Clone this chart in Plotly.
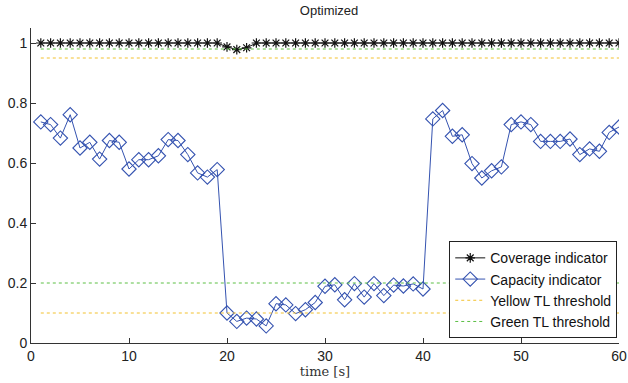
import plotly.graph_objects as go

time = list(range(1, 61))
coverage = [1.0] * 19 + [0.987, 0.978, 0.984] + [1.0] * 38
capacity = [0.737, 0.728, 0.683, 0.761, 0.650, 0.669, 0.613, 0.675, 0.669, 0.580,
            0.611, 0.611, 0.624, 0.678, 0.675, 0.628, 0.567, 0.553, 0.578, 0.100,
            0.072, 0.083, 0.080, 0.057, 0.131, 0.127, 0.098, 0.111, 0.135, 0.189,
            0.194, 0.144, 0.198, 0.153, 0.198, 0.158, 0.193, 0.190, 0.197, 0.180,
            0.747, 0.775, 0.689, 0.694, 0.598, 0.550, 0.574, 0.587, 0.728, 0.737,
            0.728, 0.672, 0.672, 0.672, 0.680, 0.628, 0.647, 0.639, 0.702, 0.720]
yellow_levels = [0.95, 0.1]
green_levels = [0.98, 0.2]
x_ticks = [0, 10, 20, 30, 40, 50, 60]
y_ticks = [0, 0.2, 0.4, 0.6, 0.8, 1]

BLUE = "#3553b0"
YELLOW = "#f2c12e"
GREEN = "#5cbf45"


def level_line(levels):
    xs, ys = [], []
    for lv in levels:
        xs += [time[0], time[-1], None]
        ys += [lv, lv, None]
    return xs, ys


fig = go.Figure()
fig.add_trace(go.Scatter(
    x=time, y=coverage, name="Coverage indicator", mode="lines+markers",
    line=dict(color="#111111", width=1),
    marker=dict(symbol="asterisk-open", size=8, color="#111111",
                line=dict(color="#111111", width=1.2))))
fig.add_trace(go.Scatter(
    x=time, y=capacity, name="Capacity indicator", mode="lines+markers",
    line=dict(color=BLUE, width=1),
    marker=dict(symbol="diamond-open", size=11, color=BLUE,
                line=dict(color=BLUE, width=1.1))))
yx, yy = level_line(yellow_levels)
fig.add_trace(go.Scatter(
    x=yx, y=yy, name="Yellow TL threshold", mode="lines",
    line=dict(color=YELLOW, width=1, dash="3px,3px")))
gx, gy = level_line(green_levels)
fig.add_trace(go.Scatter(
    x=gx, y=gy, name="Green TL threshold", mode="lines",
    line=dict(color=GREEN, width=1, dash="3px,3px")))

axis_common = dict(
    showgrid=False, zeroline=False, showline=True, linecolor="#333333",
    linewidth=1, ticks="inside", ticklen=5, tickcolor="#333333", automargin=False,
    tickfont=dict(family="Liberation Sans, Arial, sans-serif", size=14, color="#222222"),
)

fig.update_layout(
    width=628, height=383,
    margin=dict(l=31, r=9, t=28, b=40),
    paper_bgcolor="white", plot_bgcolor="white",
    title=dict(text="Optimized", x=0.524, xanchor="center", y=0.985, yanchor="top",
               font=dict(family="Liberation Sans, Arial, sans-serif", size=13, color="#222222")),
    xaxis=dict(range=[0, 60], tickvals=x_ticks,
               title=dict(text="time [s]", standoff=2,
                          font=dict(family="DejaVu Serif, Liberation Serif, serif", size=13, color="#333333")),
               **axis_common),
    yaxis=dict(range=[0, 1.05], tickvals=y_ticks, ticktext=["0", "0.2", "0.4", "0.6", "0.8", "1"],
               **axis_common),
    legend=dict(x=0.997, xanchor="right", y=0.015, yanchor="bottom",
                bgcolor="white", bordercolor="#222222", borderwidth=1,
                font=dict(family="Liberation Sans, Arial, sans-serif", size=14, color="#111111"),
                tracegroupgap=0, itemwidth=30),
    showlegend=True,
)

fig.write_html("out.html")
